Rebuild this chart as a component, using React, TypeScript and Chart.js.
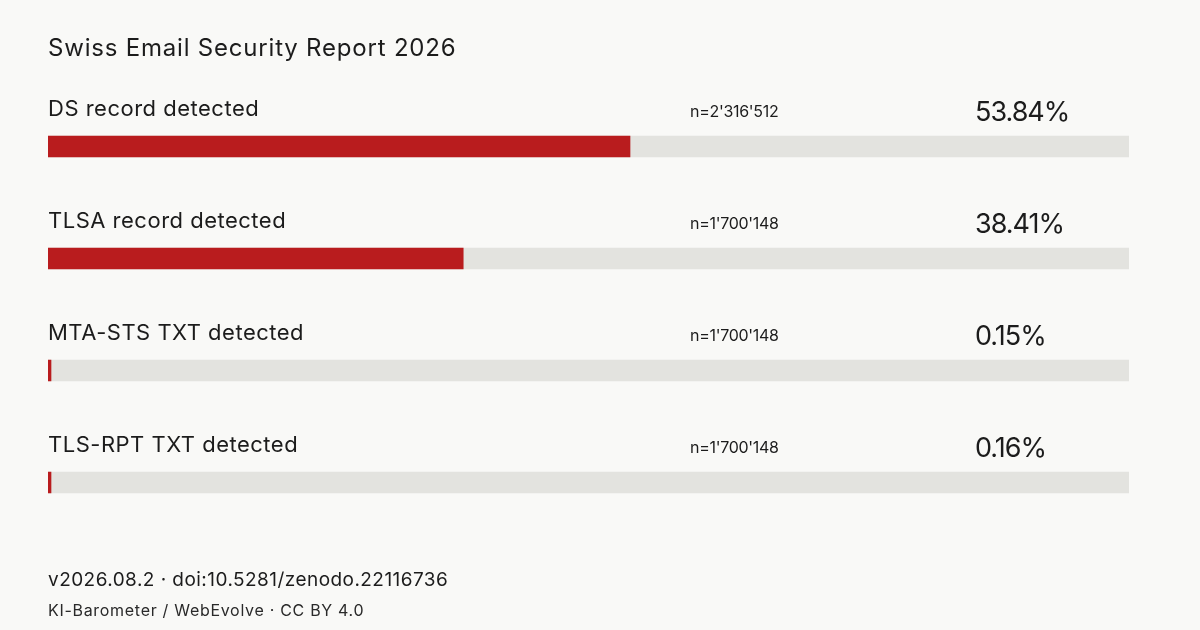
import React, { useEffect, useRef } from "react";
import { Chart, ChartConfiguration, Plugin, registerables } from "chart.js";

const labels = ["DS record detected", "TLSA record detected", "MTA-STS TXT detected", "TLS-RPT TXT detected"];
const shares = [53.84, 38.41, 0.15, 0.16];
const samples = [2316512, 1700148, 1700148, 1700148];
const track = [100, 100, 100, 100];

const title = "Swiss Email Security Report 2026";
const footerLines = ["v2026.08.2 · doi:10.5281/zenodo.22116736", "KI-Barometer / WebEvolve · CC BY 4.0"];

const FONT = "Inter, 'Noto Sans', sans-serif";
const INK = "#1c1c1c";

const fmtN = (n: number) => "n=" + String(n).replace(/\B(?=(\d{3})+(?!\d))/g, "'");

// draws row labels, counts, percentages, title and footer
const textPlugin: Plugin = {
	id: "rowText",
	afterDatasetsDraw(chart) {
		const ctx = chart.ctx as any;
		const meta = chart.getDatasetMeta(0);
		ctx.save();
		ctx.fillStyle = INK;
		ctx.textAlign = "left";
		ctx.textBaseline = "alphabetic";
		meta.data.forEach((bar: any, i) => {
			const y = bar.y;
			ctx.font = `400 22px ${FONT}`;
			ctx.letterSpacing = "0.5px";
			ctx.fillText(labels[i], 48, y - 31);
			ctx.font = `400 16px ${FONT}`;
			ctx.letterSpacing = "-0.3px";
			ctx.fillText(fmtN(samples[i]), 690, y - 30);
			ctx.font = `400 27px ${FONT}`;
			ctx.letterSpacing = "-1px";
			ctx.fillText(shares[i].toFixed(2) + "%", 975, y - 26);
		});

		ctx.font = `400 24px ${FONT}`;
		ctx.letterSpacing = "0.8px";
		ctx.fillText(title, 48, 56);
		ctx.font = `400 19px ${FONT}`;
		ctx.letterSpacing = "0.45px";
		ctx.fillText(footerLines[0], 48, 586);
		ctx.fillStyle = "#2a2a2a";
		ctx.font = `400 16px ${FONT}`;
		ctx.letterSpacing = "0.7px";
		ctx.fillText(footerLines[1], 48, 616);
		ctx.restore();
	},
};

const App: React.FC = () => {
	const canvasRef = useRef<HTMLCanvasElement | null>(null);
	const chart = useRef<Chart | null>(null);

	useEffect(() => {
		document.body.style.margin = "0";
		if (canvasRef.current) {
			const ctx = canvasRef.current.getContext("2d");
			if (ctx) {
				Chart.register(...registerables);
				const config = {
					type: "bar",
					data: {
						labels,
						datasets: [
							{
								data: shares,
								backgroundColor: "#b91c1e",
								barThickness: 21,
								minBarLength: 3,
								grouped: false,
								order: 0,
								borderWidth: 0,
							},
							{
								data: track,
								backgroundColor: "#e3e3df",
								barThickness: 21,
								grouped: false,
								order: 1,
								borderWidth: 0,
							},
						],
					},
					options: {
						indexAxis: "y",
						responsive: false,
						animation: false,
						events: [],
						layout: { padding: { left: 48, right: 71, top: 90.5, bottom: 91.5 } },
						plugins: { legend: { display: false }, tooltip: { enabled: false } },
						scales: {
							x: { min: 0, max: 100, display: false },
							y: { display: false, offset: true },
						},
					},
					plugins: [textPlugin],
				} as ChartConfiguration;

				chart.current = new Chart(ctx, config);
			}
		}

		return () => {
			if (chart.current) {
				chart.current.destroy();
				chart.current = null;
			}
		};
	}, []);

	return (
		<div style={{ position: "absolute", left: 0, top: 0, width: 1200, height: 630, background: "#f9f9f7" }}>
			<canvas ref={canvasRef} width={1200} height={630} />
		</div>
	);
};

export default App;
